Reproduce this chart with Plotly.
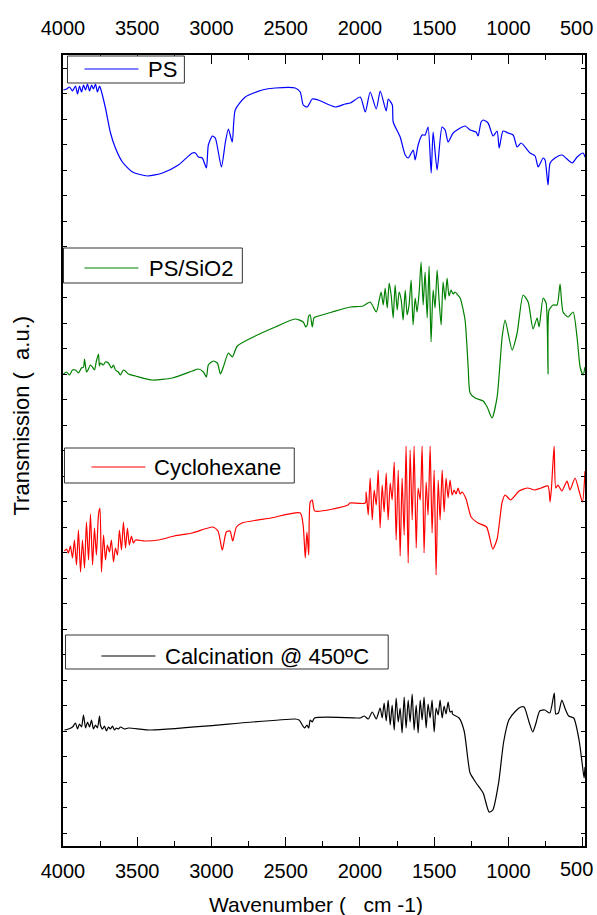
import plotly.graph_objects as go

# ---------------- data (wavenumber in cm-1, transmission in a.u.) ----------------
ps_wn = [3997,3976,3956,3936,3916,3902,3889,3875,3862,3848,3835,3821,3808,3795,3781,3768,3754,3748,
         3714,3680,3647,3600,3532,3431,3330,3223,3129,3108,3088,3062,3034,3021,2994,2974,2933,2906,2886,2860,
         2840,2772,2658,2570,2436,2402,2382,2355,2321,2281,2166,2099,2065,1998,1964,1931,1890,1863,1823,1809,
         1782,1776,1729,1695,1675,1641,1628,1608,1581,1561,1541,1520,1507,1480,1447,1426,1406,1372,1292,1258,
         1218,1204,1184,1170,1137,1103,1076,1062,1036,1002,968,941,914,854,820,800,766,753,733,719,
         686,639,571,537,497,484]
ps_t = [756,757,759,755,760,752,760,754,761,756,762,755,761,757,762,754,760,758,
        738,713,698,684,674,670,673,681,693,693,689,688,678,701,710,708,679,704,717,704,
        736,749,756,758,758,754,741,739,747,746,739,742,743,749,734,754,737,755,735,747,
        741,724,709,691,688,696,686,701,711,711,719,673,714,676,719,716,704,713,720,716,
        714,710,724,726,723,710,715,698,715,713,711,699,703,693,690,679,688,686,661,683,
        688,691,683,689,693,689]

sio2_wn = [3997,3976,3956,3936,3916,3896,3876,3862,3855,3842,3835,3815,3802,3788,3775,3761,3755,3748,3728,3714,
           3694,3674,3660,3647,3627,3613,3593,3580,3560,3512,3398,3263,3129,3088,3054,3034,3021,2987,2960,2940,
           2920,2886,2860,2826,2705,2570,2436,2382,2365,2355,2345,2335,2321,2310,2301,2187,2065,1978,1931,1890,
           1870,1857,1843,1830,1816,1803,1789,1776,1763,1749,1736,1722,1709,1695,1682,1669,1655,1642,1628,1615,
           1601,1588,1574,1561,1547,1534,1521,1507,1494,1480,1467,1453,1440,1426,1413,1400,1386,1373,1359,1346,
           1325,1292,1271,1258,1224,1170,1143,1110,1076,1042,1022,975,941,901,867,834,807,793,766,746,
           733,726,699,672,652,632,598,564,537,517,497,484]
sio2_t = [472,474,471,476,476,473,478,479,487,474,475,481,479,476,485,492,480,483,481,484,
          483,478,481,476,474,471,476,475,472,470,466,468,475,477,474,469,481,485,483,472,
          479,493,489,500,510,519,527,524,519,521,530,531,519,528,529,534,539,540,544,534,
          546,554,541,558,538,563,550,528,561,536,554,546,526,556,531,541,566,521,548,534,
          554,584,541,574,528,580,504,556,538,576,546,521,564,546,568,550,556,552,554,552,
          548,526,479,453,448,445,439,428,449,509,526,496,513,551,544,517,528,519,548,543,
          472,536,541,541,562,534,529,534,508,479,471,479]

cyc_wn = [3990,3976,3963,3950,3936,3923,3909,3896,3882,3869,3855,3842,3828,3815,3801,3788,3775,3761,3751,3741,
          3727,3714,3701,3687,3674,3660,3647,3633,3620,3606,3593,3579,3566,3553,3539,3526,3512,
          3450,3357,3250,3129,2991,2956,2927,2900,2875,2857,2832,2795,2600,2402,2382,2368,2357,2345,2335,
          2321,2304,2080,2069,1964,
          1958,1944,1931,1917,1904,1890,1877,1864,1850,1837,1823,1810,1796,1783,1769,1756,1742,1729,1716,1702,
          1689,1675,1662,1648,1635,1621,1608,1594,1581,1568,1554,1541,1527,1514,1500,1487,1473,1460,1446,1433,
          1420,1406,1393,1379,1366,1352,1339,1325,1312,
          1285,1251,1204,1147,1105,1076,1042,1022,985,928,870,824,780,733,719,709,692,681,666,640,
          605,585,551,524,501,484]
cyc_t = [295,297,293,300,288,306,281,316,274,306,278,324,286,332,281,318,291,331,338,274,
         311,286,301,294,306,284,298,291,316,296,324,298,318,301,310,303,306,
         305,306,310,313,319,315,296,314,315,305,319,323,328,333,320,288,314,291,344,
         346,335,341,343,343,
         354,331,368,326,356,341,376,318,361,334,373,326,363,346,384,306,376,290,368,311,
         400,283,396,326,400,298,358,346,400,293,364,331,400,313,376,271,366,326,376,334,
         368,348,366,351,356,352,358,352,354,
         347,329,323,319,297,307,344,351,346,355,358,356,358,360,344,360,400,358,361,355,
         365,356,368,355,344,375]

cal_wn = [3990,3963,3936,3916,3902,3889,3875,3862,3848,3835,3821,3808,3795,3781,3768,3754,3748,3734,3721,3707,
          3694,3680,3667,3653,3640,3627,3613,3586,3559,
          3404,2437,2410,2373,2357,2345,2335,2321,2306,2011,
          1998,1971,1944,1917,1890,1864,1850,1837,1823,1810,1796,1783,1769,1756,1742,1729,1716,1702,1689,1675,
          1662,1648,1635,1621,1608,1594,1581,1568,1554,1541,1527,1514,1500,1487,1473,1460,1446,1433,1420,1406,
          1393,1379,
          1377,1332,1298,1273,1258,1217,1170,1130,1105,1066,1032,997,951,916,894,859,836,814,789,755,
          721,691,681,663,640,617,594,560,524,501,490,484]
cal_t = [116,117,119,123,117,122,119,131,118,124,119,126,117,121,118,130,121,117,120,115,
         119,117,120,116,118,117,119,117,118,
         116,127,126,118,121,118,126,124,128,128,
         128,130,127,134,127,138,128,143,125,146,121,141,116,148,124,138,113,149,118,146,
         124,152,116,141,113,146,126,149,118,142,128,146,114,138,131,146,128,140,132,144,
         134,135,
         132,128,115,87,73,63,53,34,36,63,104,126,135,139,139,123,114,123,135,136,
         133,153,132,133,146,137,130,128,106,80,68,79]

names = ["PS", "PS/SiO2", "Cyclohexane", "Calcination @ 450ºC"]
colors = ["#0000FF", "#008000", "#FF0000", "#000000"]
series = [(ps_wn, ps_t), (sio2_wn, sio2_t), (cyc_wn, cyc_t), (cal_wn, cal_t)]
x_ticks = [4000, 3500, 3000, 2500, 2000, 1500, 1000, 500]
x_ticktext = ["4000", "3500", "3000", "2500", "2000", "1500", "1000", ""]  # "500" drawn inside the page edge below
edge_label = "500"
x_range = [4000, 484]
y_range = [0, 791]

FONT = "Arial, Liberation Sans, sans-serif"

fig = go.Figure()
for (wx, ty), nm, c in zip(series, names, colors):
    fig.add_trace(go.Scatter(x=wx, y=ty, mode="lines", name=nm,
                             line=dict(color=c, width=1.2, shape="spline", smoothing=0.6),
                             showlegend=False))
# helper trace for the top axis
fig.add_trace(go.Scatter(x=[x_range[0]], y=[None], xaxis="x2", showlegend=False, hoverinfo="skip"))

# plot area in pixels
W, H = 597, 915
L, R, T, B = 62.5, 585, 55, 846

def px(x):
    return (x - L) / (R - L)

def py(y):
    return (B - y) / (B - T)

# legend boxes: (box x0, y0, x1, y1, line x0, line x1, line y, text x)
legend_geo = [
    (67, 56, 184, 83, 84, 138, 69, 146),
    (63, 248, 242, 283, 84, 138, 268, 147),
    (64, 448, 294, 483, 91, 145, 467, 152),
    (65, 635, 388, 669, 101, 155, 656, 163),
]
shapes = []
annotations = []
for (bx0, by0, bx1, by1, lx0, lx1, ly, tx), nm, c in zip(legend_geo, names, colors):
    shapes.append(dict(type="rect", xref="paper", yref="paper",
                       x0=px(bx0), x1=px(bx1), y0=py(by1), y1=py(by0),
                       line=dict(color="#333333", width=1), fillcolor="white", layer="above"))
    shapes.append(dict(type="line", xref="paper", yref="paper",
                       x0=px(lx0), x1=px(lx1), y0=py(ly), y1=py(ly),
                       line=dict(color=c, width=1.2), layer="above"))
    annotations.append(dict(text=nm, xref="paper", yref="paper", x=px(tx), y=py(ly),
                            xanchor="left", yanchor="middle", showarrow=False,
                            font=dict(size=22, color="black", family=FONT)))

# "500" labels at the right page edge (top and bottom)
for ylab in (28, 869):
    annotations.append(dict(text=edge_label, xref="paper", yref="paper", x=px(595.5), y=py(ylab),
                            xanchor="right", yanchor="middle", showarrow=False,
                            font=dict(size=20, color="black", family=FONT)))

annotations.append(dict(text="Wavenumber (   cm -1)", xref="paper", yref="paper",
                        x=px(316), y=py(905), xanchor="center", yanchor="middle",
                        showarrow=False, font=dict(size=21, color="black", family=FONT)))
annotations.append(dict(text="Transmission (  a.u.)", xref="paper", yref="paper",
                        x=px(20), y=py(416), xanchor="center", yanchor="middle", textangle=-90,
                        showarrow=False, font=dict(size=22, color="black", family=FONT)))

axis_common = dict(showgrid=False, zeroline=False, automargin=False)
fig.update_layout(
    width=W, height=H,
    margin=dict(l=L, r=W - R, t=T, b=H - B, autoexpand=False),
    paper_bgcolor="white", plot_bgcolor="white",
    font=dict(family=FONT, size=20, color="black"),
    xaxis=dict(range=x_range, tickvals=x_ticks, ticktext=x_ticktext, ticks="inside", ticklen=9,
               tickwidth=1.3, tickcolor="black", showline=True, linecolor="black", linewidth=1.8,
               mirror="ticks",
               minor=dict(dtick=250, ticks="inside", ticklen=5, tickwidth=1.2, tickcolor="black"),
               tickfont=dict(size=20), ticklabelstandoff=6, ticklabeloverflow="allow",
               **axis_common),
    xaxis2=dict(range=x_range, tickvals=x_ticks, ticktext=x_ticktext, overlaying="x", side="top",
                matches="x", ticks="", showline=False, tickfont=dict(size=20), ticklabelstandoff=15,
                ticklabeloverflow="allow", **axis_common),
    yaxis=dict(range=y_range, showticklabels=False, ticks="inside", ticklen=4, dtick=25.5, tick0=13,
               tickcolor="black", showline=True, linecolor="black", linewidth=1.8, mirror="ticks",
               **axis_common),
    shapes=shapes,
    annotations=annotations,
)

fig.write_html("out.html")
